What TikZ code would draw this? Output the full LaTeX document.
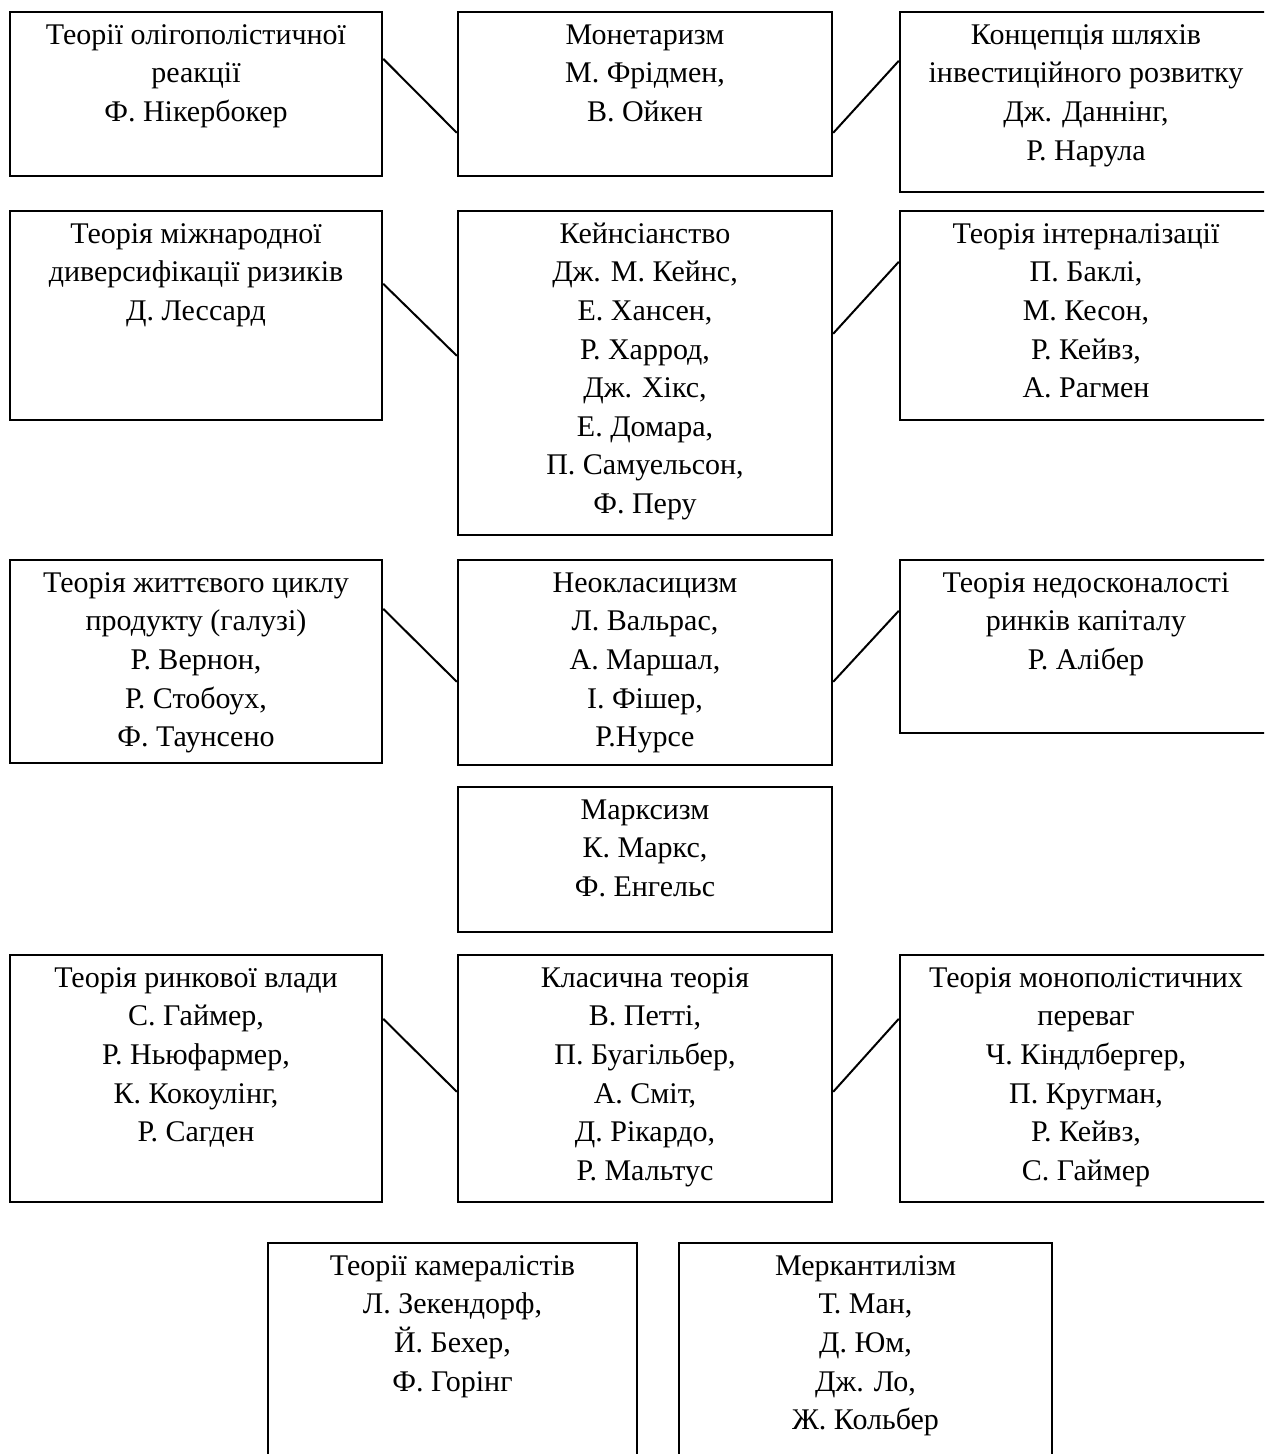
\documentclass[tikz,border=0pt]{standalone}
\usepackage{fontspec}
\setmainfont{Liberation Serif}
\usetikzlibrary{positioning, calc, fit}
\definecolor{lineBlack}{HTML}{000000}
\tikzset{
    theoryBox/.style={draw=lineBlack, line width=1.2pt, inner sep=0pt},
    theoryText/.style={anchor=north, align=center, inner sep=0pt, font=\fontsize{15}{19.3}\selectfont},
    theoryLink/.style={draw=lineBlack, line width=1pt}
}
\newcommand{\TheoryBox}[6]{
    \coordinate (#1-nw) at (#2,#3);
    \coordinate (#1-se) at (#4,#5);
    \node[theoryBox, fit=(#1-nw)(#1-se)] (#1) {};
    \node[theoryText] (#1-text) at ($(#1.north)+(0,6)$) {\strut #6};
}
\newcommand{\TheoryLink}[4]{
    \draw[theoryLink] ($(#1.north east)+(0,#2)$) -- ($(#3.north west)+(0,#4)$);
}
\begin{document}
\begin{tikzpicture}[x=0.5pt, y=-0.5pt]
        \useasboundingbox (0,0) rectangle (1264,1454);
        \clip (0,0) rectangle (1264,1454);

        % Row 1
        \TheoryBox{lt1}{10}{12}{382}{176}{Теорії олігополістичної\\реакції\\Ф. Нікербокер}
        \TheoryBox{mid1}{458}{12}{832}{176}{Монетаризм\\М. Фрідмен,\\В. Ойкен}
        \TheoryBox{rt1}{900}{12}{1272}{192}{Концепція шляхів\\інвестиційного розвитку\\Дж. Даннінг,\\Р. Нарула}
        \TheoryLink{lt1}{48}{mid1}{122}
        \TheoryLink{mid1}{122}{rt1}{50}

        % Row 2
        \TheoryBox{lt2}{10}{211}{382}{420}{Теорія міжнародної\\диверсифікації ризиків\\Д. Лессард}
        \TheoryBox{mid2}{458}{211}{832}{535}{Кейнсіанство\\Дж. М. Кейнс,\\Е. Хансен,\\Р. Харрод,\\Дж. Хікс,\\Е. Домара,\\П. Самуельсон,\\Ф. Перу}
        \TheoryBox{rt2}{900}{211}{1272}{420}{Теорія інтерналізації\\П. Баклі,\\М. Кесон,\\Р. Кейвз,\\А. Рагмен}
        \TheoryLink{lt2}{74}{mid2}{146}
        \TheoryLink{mid2}{124}{rt2}{52}

        % Row 3
        \TheoryBox{lt3}{10}{560}{382}{763}{Теорія життєвого циклу\\продукту (галузі)\\Р. Вернон,\\Р. Стобоух,\\Ф. Таунсено}
        \TheoryBox{mid3}{458}{560}{832}{765}{Неокласицизм\\Л. Вальрас,\\А. Маршал,\\І. Фішер,\\Р.Нурсе}
        \TheoryBox{rt3}{900}{560}{1272}{733}{Теорія недосконалості\\ринків капіталу\\Р. Алібер}
        \TheoryLink{lt3}{50}{mid3}{123}
        \TheoryLink{mid3}{123}{rt3}{52}

        % Row 4
        \TheoryBox{mid4}{458}{787}{832}{932}{Марксизм\\К. Маркс,\\Ф. Енгельс}

        % Row 5
        \TheoryBox{lt5}{10}{955}{382}{1202}{Теорія ринкової влади\\С. Гаймер,\\Р. Ньюфармер,\\К. Кокоулінг,\\Р. Сагден}
        \TheoryBox{mid5}{458}{955}{832}{1202}{Класична теорія\\В. Петті,\\П. Буагільбер,\\А. Сміт,\\Д. Рікардо,\\Р. Мальтус}
        \TheoryBox{rt5}{900}{955}{1272}{1202}{Теорія монополістичних\\переваг\\Ч. Кіндлбергер,\\П. Кругман,\\Р. Кейвз,\\С. Гаймер}
        \TheoryLink{lt5}{65}{mid5}{138}
        \TheoryLink{mid5}{138}{rt5}{65}

        % Row 6
        \TheoryBox{bl6}{268}{1243}{637}{1480}{Теорії камералістів\\Л. Зекендорф,\\Й. Бехер,\\Ф. Горінг}
        \TheoryBox{br6}{679}{1243}{1052}{1480}{Меркантилізм\\Т. Ман,\\Д. Юм,\\Дж. Ло,\\Ж. Кольбер}
    \end{tikzpicture}
\end{document}
